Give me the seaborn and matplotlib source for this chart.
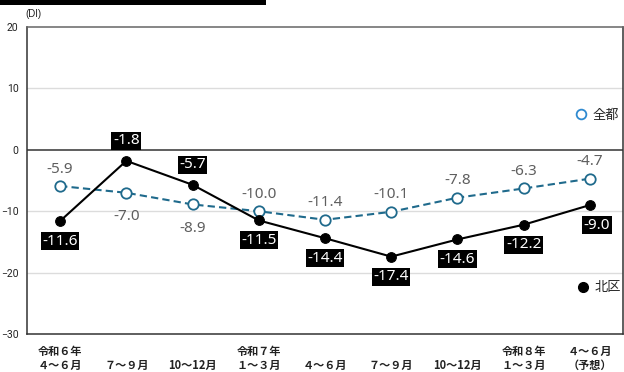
import matplotlib
matplotlib.use("Agg")
import matplotlib.pyplot as plt
from matplotlib.lines import Line2D
from matplotlib.patches import Rectangle
import pandas as pd
import seaborn as sns

# Quarterly business conditions (DI)
periods = ["令和６年\n４～６月", "７～９月", "10～12月", "令和７年\n１～３月", "４～６月",
           "７～９月", "10～12月", "令和８年\n１～３月", "４～６月\n（予想）"]
tokyo_all = [-5.9, -7.0, -8.9, -10.0, -11.4, -10.1, -7.8, -6.3, -4.7]
kita_ward = [-11.6, -1.8, -5.7, -11.5, -14.4, -17.4, -14.6, -12.2, -9.0]
y_ticks = [20, 10, 0, -10, -20, -30]

# label placement: +1 above the point, -1 below
tokyo_side = [1, -1, -1, 1, 1, 1, 1, 1, 1]
kita_side = [-1, 1, 1, -1, -1, -1, -1, -1, -1]

sns.set_theme(style="white")
plt.rcParams["font.family"] = ["Noto Sans CJK JP", "DejaVu Sans"]

TOKYO_COLOR = "#1f6a8c"
LEGEND_BLUE = "#2f8ad0"
GRAY_TEXT = "#5f5f5f"
LABEL_FONT = ["Noto Sans", "DejaVu Sans"]

df = pd.DataFrame({
    "x": list(range(len(periods))) * 2,
    "DI": tokyo_all + kita_ward,
    "series": ["全都"] * len(periods) + ["北区"] * len(periods),
})

fig = plt.figure(figsize=(6.24, 3.72), dpi=100)
ax = fig.add_axes([27 / 624, 1 - 334 / 372, 596 / 624, 307 / 372])

sub_t = df[df.series == "全都"]
sub_k = df[df.series == "北区"]
sns.lineplot(data=sub_t, x="x", y="DI", ax=ax, color=TOKYO_COLOR, lw=1.5,
             linestyle=(0, (3.5, 2)), marker="o", markersize=7.5,
             markerfacecolor="white", markeredgecolor=TOKYO_COLOR,
             markeredgewidth=1.3, zorder=4)
sns.lineplot(data=sub_k, x="x", y="DI", ax=ax, color="black", lw=1.5,
             marker="o", markersize=7, markerfacecolor="black",
             markeredgecolor="black", zorder=5)

ax.set_xlim(-0.5, len(periods) - 0.5)
ax.set_ylim(-30, 20)
ax.set_yticks(y_ticks)
ax.set_yticklabels([f"{v}".replace("-", "−") for v in y_ticks],
                   family=["Liberation Sans Narrow", "Roboto", "DejaVu Sans"],
                   fontsize=7.5, color="#222222", stretch="condensed")

# single-line periods sit on the lower row, next to the month line of the others
tick_text = [p if "\n" in p else "\n" + p for p in periods]
ax.set_xticks(range(len(periods)))
ax.set_xticklabels(tick_text, fontsize=8, fontweight="bold", color="#222222",
                   linespacing=1.12)
ax.tick_params(axis="x", length=0, pad=8)
ax.tick_params(axis="y", length=0, pad=6)
ax.set_xlabel("")
ax.set_ylabel("")

for v in [10, -10, -20]:
    ax.axhline(v, color="#dcdcdc", lw=1, zorder=1)
ax.axhline(0, color="#333333", lw=1.1, zorder=2)

for side in ["left", "bottom", "right", "top"]:
    ax.spines[side].set_visible(True)
    ax.spines[side].set_color("#333333")
    ax.spines[side].set_linewidth(1.1)
ax.spines["top"].set_color("#666666")

# value labels
for i, (v, s) in enumerate(zip(tokyo_all, tokyo_side)):
    ax.annotate(f"{v:.1f}", (i, v), xytext=(0, 17 * s + (-7 if s < 0 else 0)),
                textcoords="offset pixels", ha="center", va="center",
                fontsize=11, color=GRAY_TEXT, family=LABEL_FONT, zorder=6)

for i, (v, s) in enumerate(zip(kita_ward, kita_side)):
    dx = 7 if i == len(kita_ward) - 1 else 0
    ax.annotate(f"{v:.1f}", (i, v), xytext=(dx, 20 * s), textcoords="offset pixels",
                ha="center", va="center", fontsize=11, color="white", zorder=7,
                family=LABEL_FONT,
                bbox=dict(boxstyle="square,pad=0.1", fc="black", ec="none"))

# legend entries placed at opposite ends of the right margin
h_t = Line2D([], [], ls="none", marker="o", markersize=7, markerfacecolor="white",
             markeredgecolor=LEGEND_BLUE, markeredgewidth=1.3)
h_k = Line2D([], [], ls="none", marker="o", markersize=7, color="black")
leg1 = ax.legend([h_t], ["全都"], loc="center left", bbox_to_anchor=(0.905, 0.713),
                 frameon=False, fontsize=9.5, handletextpad=0.3, handlelength=1.2,
                 borderpad=0)
ax.add_artist(leg1)
ax.legend([h_k], ["北区"], loc="center left", bbox_to_anchor=(0.908, 0.15),
          frameon=False, fontsize=9.5, handletextpad=0.3, handlelength=1.2,
          borderpad=0)

fig.text(25 / 624, 1 - 14 / 372, "(DI)", fontsize=7, ha="left", va="center",
         family=["Liberation Sans", "DejaVu Sans"], color="#222222")

# heavy rule across the top left
fig.add_artist(Rectangle((0, 1 - 5 / 372), 266 / 624, 5 / 372, transform=fig.transFigure,
                         fc="black", ec="none"))

fig.savefig("out.png", dpi=100)
